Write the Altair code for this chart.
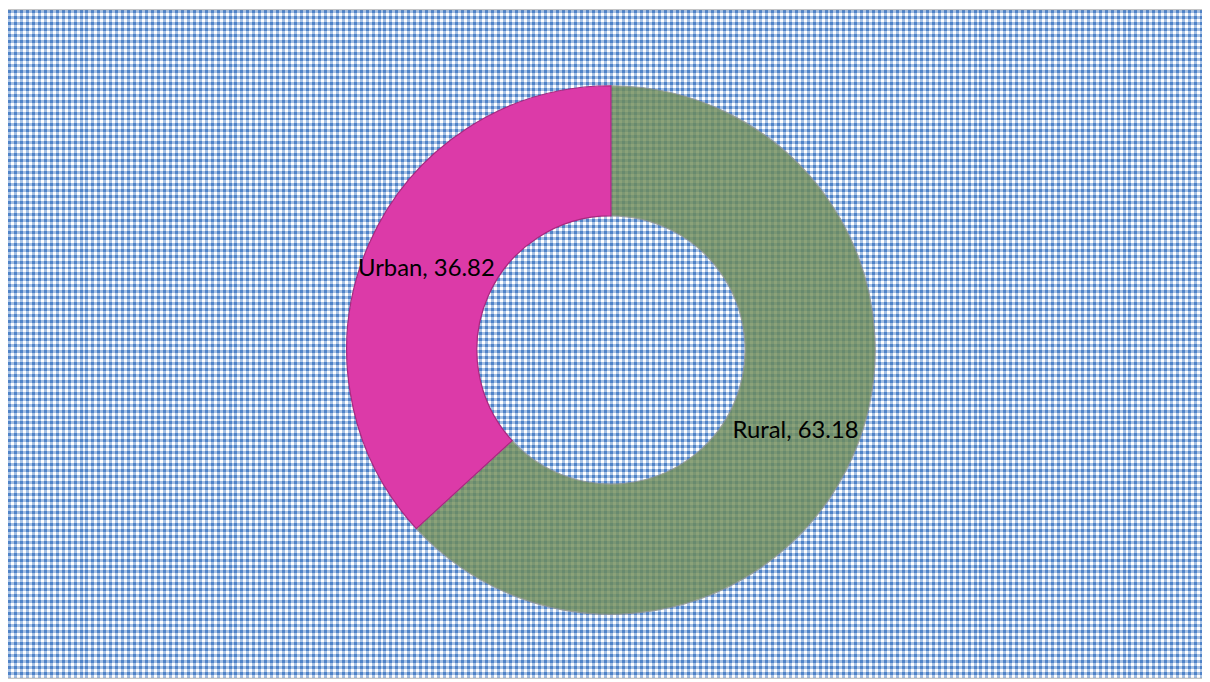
import altair as alt
import pandas as pd

# ---- data ----
categories = ["Rural", "Urban"]
values = [63.18, 36.82]
colors = ["#6f8c58", "#dc3aa8"]

df = pd.DataFrame({"category": categories, "value": values, "order": [0, 1]})

# ---- layout ----
W, H = 1202, 672
CX, CY = 607, 342
CELL = 3  # half period of gingham pattern

def stripes(length, alpha):
    n = int(length / CELL) + 1
    stops = []
    for i in range(n):
        a = min(i * CELL / length, 1.0)
        b = min((i + 1) * CELL / length, 1.0)
        if i % 2 == 0:
            c = f"rgba(79,131,200,{alpha})"
        else:
            c = f"rgba(255,255,255,{alpha})"
        stops.append({"offset": a, "color": c})
        stops.append({"offset": b, "color": c})
        if b >= 1.0:
            break
    return stops

bg_data = alt.Data(values=[{"k": 0}])

vert = alt.Chart(bg_data).mark_rect(
    fill={"gradient": "linear", "x1": 0, "x2": 1, "y1": 0, "y2": 0,
          "stops": stripes(W, 1)}
).encode(x=alt.value(0), x2=alt.value(W), y=alt.value(0), y2=alt.value(H))

horiz = alt.Chart(bg_data).mark_rect(
    fill={"gradient": "linear", "x1": 0, "x2": 0, "y1": 0, "y2": 1,
          "stops": stripes(H, 0.5)}
).encode(x=alt.value(0), x2=alt.value(W), y=alt.value(0), y2=alt.value(H))

base = alt.Chart(df).transform_calculate(
    label="datum.category + ', ' + format(datum.value, '.2f')"
).encode(
    theta=alt.Theta("value:Q", stack=True),
    order=alt.Order("order:Q"),
    x=alt.value(CX),
    y=alt.value(CY),
)

arcs = base.mark_arc(innerRadius=135, outerRadius=266, strokeWidth=1.2).encode(
    color=alt.Color("category:N", scale=alt.Scale(domain=categories, range=colors), legend=None),
    stroke=alt.Stroke("category:N", scale=alt.Scale(domain=categories, range=["#8a8f86", "#a8287f"]), legend=None),
    opacity=alt.Opacity("category:N", scale=alt.Scale(domain=categories, range=[0.8, 1.0]), legend=None),
)

labels = base.mark_text(radius=203, font="Lato", fontSize=24, color="#000000", align="center", baseline="middle").encode(
    text="label:N"
)

chart = alt.layer(vert, horiz, arcs, labels).properties(
    width=W, height=H,
    autosize=alt.AutoSizeParams(type="fit", contains="padding"),
    padding=0,
).configure_view(stroke="#8c8c8c", strokeWidth=1.5)

chart.save("out.html", embed_options={"renderer": "svg", "actions": False})
